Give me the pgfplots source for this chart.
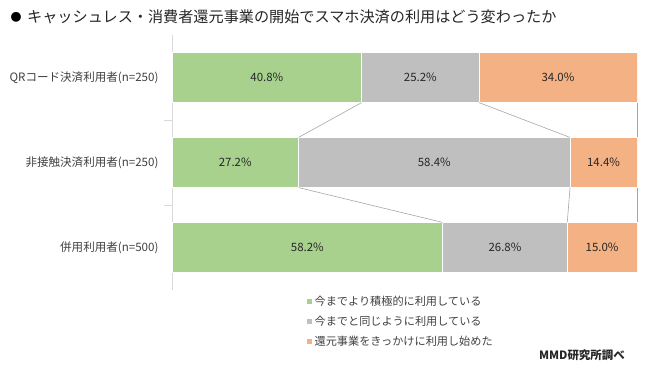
\documentclass[border=0pt]{standalone}
\usepackage{pgfplots}
\pgfplotsset{compat=1.18}
\usepackage{fontspec}
\setmainfont{Noto Sans CJK JP}
\definecolor{cgreen}{HTML}{A9D18E}
\definecolor{cgray}{HTML}{BFBFBF}
\definecolor{corange}{HTML}{F4B183}
\definecolor{txt}{HTML}{404040}
\definecolor{axln}{HTML}{D9D9D9}
\definecolor{serln}{HTML}{A6A6A6}
\pgfplotsset{base/.style={scale only axis, width=465bp, height=255bp,
  xmin=0, xmax=100, ymin=-0.5, ymax=2.5, at={(172bp,77bp)}, anchor=south west}}
\begin{document}
\begin{tikzpicture}
\useasboundingbox (0,0) rectangle (650bp,367bp);
\node[anchor=center, inner sep=0, font=\fontsize{11}{11}\selectfont] at (16bp,350bp) {●};
\node[anchor=west, inner sep=0, text=black!85, font=\fontsize{15.2}{16}\selectfont] at (27bp,350bp)
  {キャッシュレス・消費者還元事業の開始でスマホ決済の利用はどう変わったか};
\begin{axis}[base, xbar stacked, bar width=0.59,
  axis x line=none, axis y line*=left,
  y axis line style={axln, line width=0.75bp},
  ytick={0,1,2},
  yticklabels={併用利用者(n=500), 非接触決済利用者(n=250), QRコード決済利用者(n=250)},
  major tick length=0,
  yticklabel style={font=\fontsize{11.6}{12}\selectfont, text=txt, xshift=-10bp},
  extra y ticks={0.5,1.5}, extra y tick labels={},
  extra y tick style={tick align=outside, major tick length=8bp, tick style={axln, line width=0.75bp}},
  legend style={at={(0.282,-0.01)}, anchor=north west, draw=none, fill=none,
    font=\fontsize{11.2}{11}\selectfont, text=txt, row sep=6bp,
    nodes={inner sep=1.5bp}},
  legend cell align=left,
  legend image code/.code={\fill[#1] (0bp,-3bp) rectangle (6bp,3bp);},
]
\addplot[fill=cgreen, draw=white, line width=0.8bp] coordinates {(58.2,0) (27.2,1) (40.8,2)};
\addplot[fill=cgray, draw=white, line width=0.8bp] coordinates {(26.8,0) (58.4,1) (25.2,2)};
\addplot[fill=corange, draw=white, line width=0.8bp] coordinates {(15.0,0) (14.4,1) (34.0,2)};
\legend{今までより積極的に利用している, 今までと同じように利用している, 還元事業をきっかけに利用し始めた}
\end{axis}
\begin{axis}[base, hide axis, clip=false]
\addplot[serln, line width=0.6bp] coordinates {(40.8,1.705) (27.2,1.295)};
\addplot[serln, line width=0.6bp] coordinates {(66.0,1.705) (85.6,1.295)};
\addplot[serln, line width=0.6bp] coordinates {(100,1.705) (100,1.295)};
\addplot[serln, line width=0.6bp] coordinates {(27.2,0.705) (58.2,0.295)};
\addplot[serln, line width=0.6bp] coordinates {(85.6,0.705) (85.0,0.295)};
\addplot[serln, line width=0.6bp] coordinates {(100,0.705) (100,0.295)};
\addplot[draw=none, mark=none, nodes near coords, point meta=explicit symbolic,
  every node near coord/.style={anchor=center, font=\fontsize{11.5}{12}\selectfont, text=black!85}]
  table[meta=label] {
x y label
20.4 2 40.8\%
53.4 2 25.2\%
83.0 2 34.0\%
13.6 1 27.2\%
56.4 1 58.4\%
92.8 1 14.4\%
29.1 0 58.2\%
71.6 0 26.8\%
92.5 0 15.0\%
};
\end{axis}
\node[anchor=east, inner sep=0, font=\fontsize{11.5}{12}\selectfont\bfseries, text=black!85] at (625bp,12bp) {MMD研究所調べ};
\end{tikzpicture}
\end{document}
